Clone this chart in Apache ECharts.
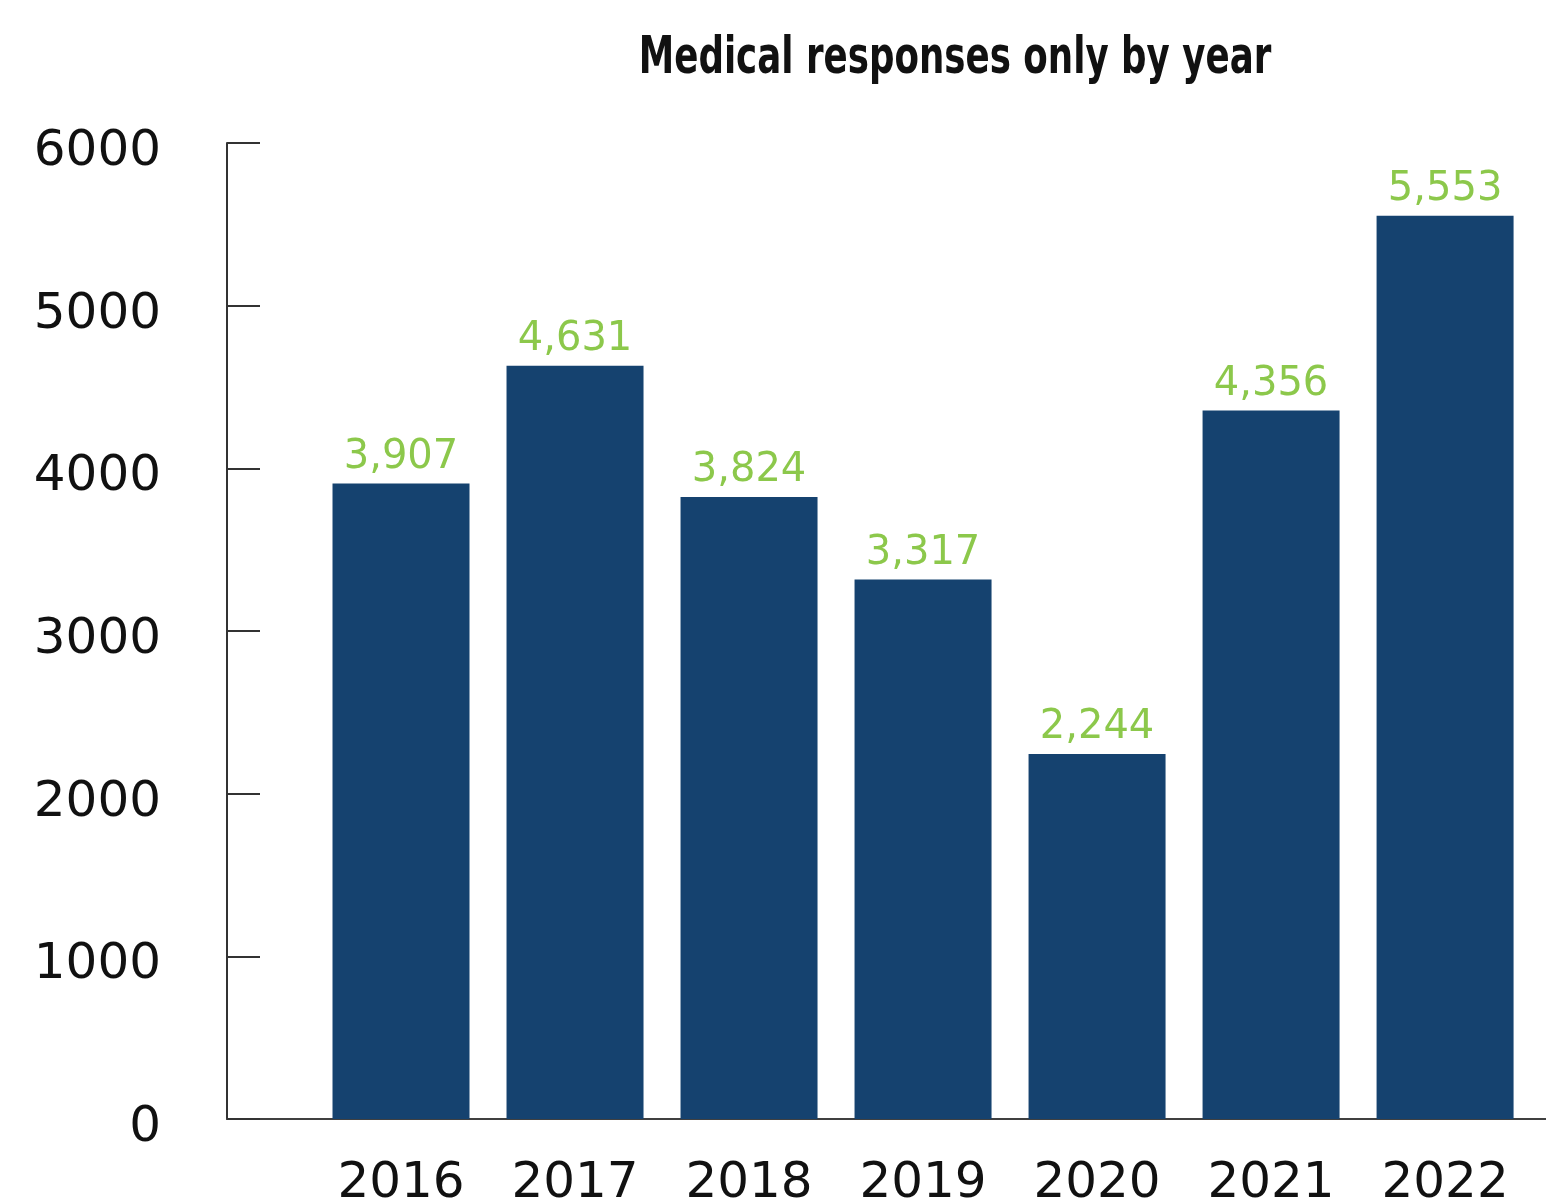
<!DOCTYPE html>
<html>
<head>
<meta charset="utf-8">
<script src="https://cdn.jsdelivr.net/npm/echarts@6/dist/echarts.min.js"></script>
<style>
html,body{margin:0;padding:0;background:#fff;}
#chart{width:1546px;height:1203px;}
</style>
</head>
<body>
<div id="chart"></div>
<script>
const years = ['2016', '2017', '2018', '2019', '2020', '2021', '2022'];
const responses = [3907, 4631, 3824, 3317, 2244, 4356, 5553];
const yTicks = [0, 1000, 2000, 3000, 4000, 5000, 6000];
const titleText = 'Medical responses only by year';

const chart = echarts.init(document.getElementById('chart'), null, {renderer: 'canvas'});
const barData = responses.map((v, i) => [i, v]);

chart.setOption({
  animation: false,
  backgroundColor: '#ffffff',
  graphic: [{
    type: 'text',
    x: 955,
    y: 33,
    scaleX: 0.762,
    style: {
      text: titleText,
      textAlign: 'center',
      textVerticalAlign: 'top',
      fontFamily: '"DejaVu Sans Condensed", "DejaVu Sans", sans-serif',
      fontWeight: 'bold',
      fontSize: 52,
      fill: '#111111'
    }
  }],
  grid: {left: 227, right: 0, top: 143, bottom: 84, containLabel: false, outerBoundsMode: 'none'},
  xAxis: {
    type: 'value',
    min: -1,
    max: 6.58,
    interval: 1,
    splitLine: {show: false},
    axisTick: {show: false},
    axisLine: {show: true, onZero: false, lineStyle: {color: '#404040', width: 2}},
    axisLabel: {
      showMinLabel: true,
      showMaxLabel: true,
      margin: 40,
      fontFamily: '"DejaVu Sans", sans-serif',
      fontSize: 50,
      color: '#111111',
      formatter: function (v) {
        const i = Math.round(v);
        if (Math.abs(v - i) < 1e-6 && i >= 0 && i < years.length) return years[i];
        return '';
      }
    }
  },
  yAxis: {
    type: 'value',
    min: yTicks[0],
    max: yTicks[yTicks.length - 1],
    interval: 1000,
    splitLine: {show: false},
    axisLine: {show: true, onZero: false, lineStyle: {color: '#333333', width: 2}},
    axisTick: {show: true, inside: true, length: 33, lineStyle: {color: '#333333', width: 2}},
    axisLabel: {
      margin: 66,
      fontFamily: '"DejaVu Sans", sans-serif',
      fontSize: 50,
      color: '#111111',
      verticalAlign: 'top',
      lineHeight: 18,
      formatter: function (v) { return String(v); }
    }
  },
  series: [{
    type: 'bar',
    data: barData,
    barWidth: 137,
    itemStyle: {color: '#15426f'},
    label: {
      show: true,
      position: 'top',
      distance: 6,
      fontFamily: '"DejaVu Sans", sans-serif',
      fontSize: 40,
      color: '#8cc84b',
      formatter: function (p) { return p.value[1].toLocaleString('en-US'); }
    }
  }]
});
</script>
</body>
</html>
